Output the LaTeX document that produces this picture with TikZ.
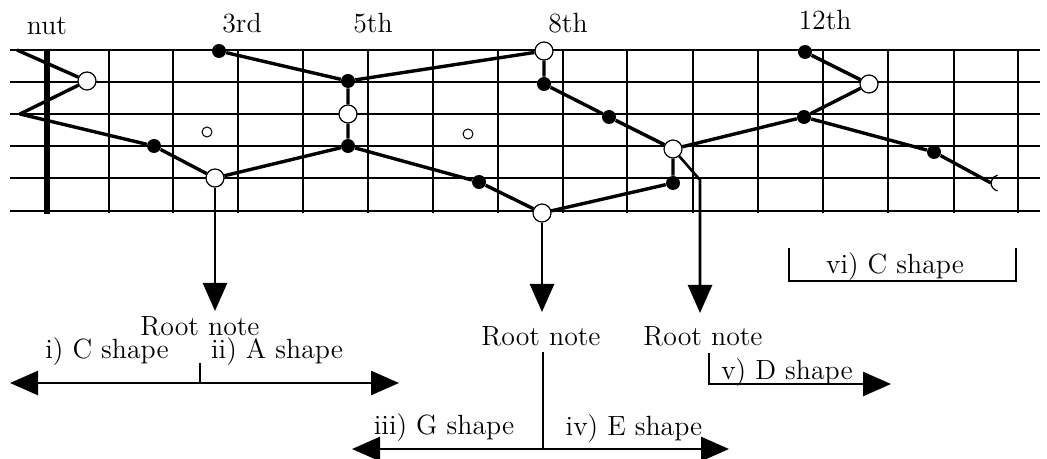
\documentclass[tikz,border=0pt]{standalone}
\usepackage{fontspec}
\usepackage{tikz}
\usetikzlibrary{arrows.meta}

\tikzset{
  opennote/.style={circle, draw, fill=white, line width=0.6pt, inner sep=0pt, minimum size=9pt},
  fillnote/.style={circle, fill=black, inner sep=0pt, minimum size=7pt},
  fretmark/.style={circle, draw, fill=white, line width=0.5pt, inner sep=0pt, minimum size=5pt},
  shapeline/.style={line width=1.7pt, line join=round},
  bigtip/.tip={Triangle[length=14pt,width=12pt]},
  rootarrow/.style={line width=1.3pt, -bigtip},
  bracket/.style={line width=1.3pt},
  lbl/.style={font=\fontsize{13.9}{16}\selectfont, inner sep=0pt, anchor=base},
}

\begin{document}
\begin{tikzpicture}[x=0.5pt, y=-0.5pt]

% ============================================================
% Frame: coordinates are taken in pixels, y running downwards
% ============================================================
\useasboundingbox (0,0) rectangle (1047,459);

% Strings
\foreach \s in {50,82,114,146,178,211}{%
  \draw[line width=0.6pt] (10,\s) -- (1040,\s);
}

% Frets and the nut
\foreach \f in {109,173,238,303,368,433,498,563,627,693,758,823,888,954,1018}{%
  \draw[line width=0.6pt] (\f,50) -- (\f,213);
}
\draw[line width=2.6pt] (47,50) -- (47,214);

% Fret labels
\node[lbl] (nut)   at (47,35)  {nut};
\node[lbl] (fr3)   at (242,33) {3rd};
\node[lbl] (fr5)   at (373,33) {5th};
\node[lbl] (fr8)   at (568,33) {8th};
\node[lbl] (fr12)  at (825,30) {12th};

% Position markers
\node[fretmark] (mk5) at (207,132) {};
\node[fretmark] (mk7) at (468,134) {};

% ============================================================
% Note positions
% ============================================================
\coordinate (z0) at (17,50);
\coordinate (z1) at (20,114);
\node[opennote] (o1) at (87,81)   {};
\node[fillnote] (f1) at (154,146) {};
\node[opennote] (o2) at (215,178) {};
\node[fillnote] (f2) at (348,146) {};
\node[opennote] (o3) at (348,114) {};
\node[fillnote] (f3) at (348,81)  {};
\node[fillnote] (f4) at (219,51)  {};
\node[opennote] (o4) at (544,51)  {};
\node[fillnote] (f5) at (544,84)  {};
\node[fillnote] (f6) at (609,117) {};
\node[opennote] (o5) at (673,149) {};
\node[fillnote] (f7) at (673,183) {};
\node[opennote] (o6) at (542,213) {};
\node[fillnote] (f8) at (479,182) {};
\node[fillnote] (f9) at (804,117) {};
\node[opennote] (o7) at (869,84)  {};
\node[fillnote] (f10) at (805,52) {};
\node[fillnote] (f11) at (934,152) {};
\coordinate (e1) at (991,183);

% --- Shape outlines
\draw[shapeline] (z0) -- (o1) -- (z1) -- (f1) -- (o2) -- (f2) -- (o3) -- (f3) -- (f4);
\draw[shapeline] (f3) -- (o4) -- (f5) -- (f6) -- (o5) -- (f7) -- (o6) -- (f8) -- (f2);
\draw[shapeline] (o5) -- (f9) -- (o7) -- (f10);
\draw[shapeline] (f9) -- (f11) -- (e1);

% Cut-off note at the end of the board
\draw[line width=0.6pt] (999,183) ++(100:8) arc (100:260:8);

% ============================================================
% Root notes
% ============================================================
\coordinate (a1) at (215,311);
\coordinate (a2) at (542,312);
\coordinate (k3) at (700,180);
\coordinate (a3) at (700,313);

\draw[rootarrow] (o2) -- (a1);
\draw[rootarrow] (o6) -- (a2);
\draw[rootarrow] (o5) -- (k3) -- (a3);

\node[lbl] (root1) at (200,335) {Root note};
\node[lbl] (root2) at (541,345) {Root note};
\node[lbl] (root3) at (703,345) {Root note};

% ============================================================
% Shape ranges
% ============================================================
% i) / ii)
\coordinate (l1) at (10,383);
\coordinate (r1) at (399,383);
\coordinate (t1) at (200,363);
\draw[bracket, bigtip-bigtip] (l1) -- (r1);
\draw[bracket] (t1) -- (t1 |- l1);
\node[lbl] (shc) at (107,358) {i) C shape};
\node[lbl] (sha) at (277,358) {ii) A shape};

% iii) / iv)
\coordinate (l2) at (352,449);
\coordinate (r2) at (729,449);
\coordinate (t2) at (543,352);
\draw[bracket, bigtip-bigtip] (l2) -- (r2);
\draw[bracket] (t2) -- (t2 |- l2);
\node[lbl] (shg) at (444,434) {iii) G shape};
\node[lbl] (she) at (634,435) {iv) E shape};

% v)
\coordinate (t3) at (709,353);
\coordinate (c3) at (709,384);
\coordinate (r3) at (891,384);
\draw[bracket, -bigtip] (t3) -- (c3) -- (r3);
\node[lbl] (shd) at (787,379) {v) D shape};

% vi)
\coordinate (t4) at (789,248);
\coordinate (c4) at (789,281);
\coordinate (c5) at (1016,281);
\coordinate (t5) at (1016,248);
\draw[bracket] (t4) -- (c4) -- (c5) -- (t5);
\node[lbl] (shc2) at (895,273) {vi) C shape};

\end{tikzpicture}
\end{document}
